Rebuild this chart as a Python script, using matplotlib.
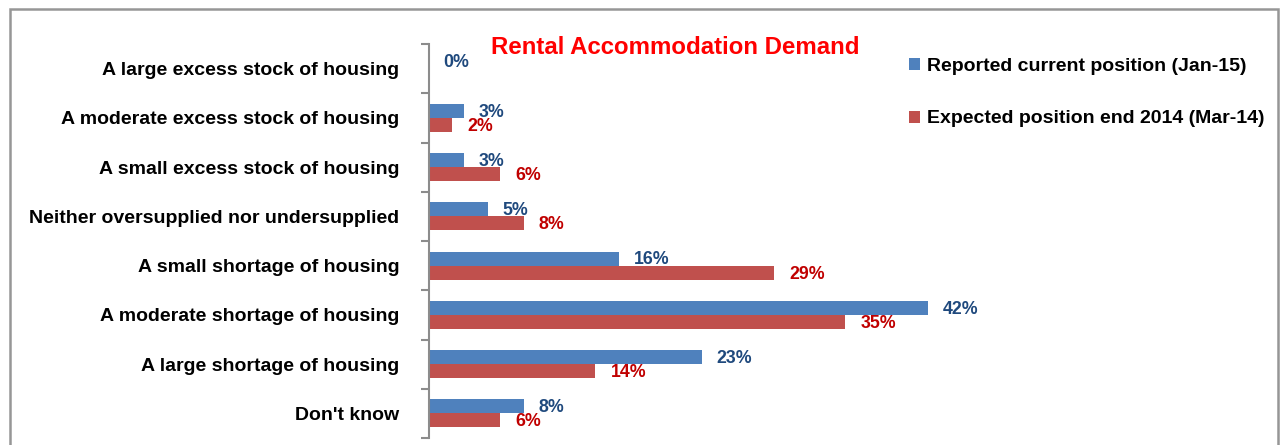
import matplotlib
matplotlib.use("Agg")
import matplotlib.pyplot as plt
from matplotlib.patches import Rectangle
import numpy as np

categories = [
    "A large excess stock of housing",
    "A moderate excess stock of housing",
    "A small excess stock of housing",
    "Neither oversupplied nor undersupplied",
    "A small shortage of housing",
    "A moderate shortage of housing",
    "A large shortage of housing",
    "Don't know",
]
current = [0, 3, 3, 5, 16, 42, 23, 8]
expected = [np.nan, 2, 6, 8, 29, 35, 14, 6]
series_names = ["Reported current position (Jan-15)",
                "Expected position end 2014 (Mar-14)"]
title = "Rental Accommodation Demand"

plt.rcParams["font.family"] = ["Liberation Sans", "DejaVu Sans"]
plt.rcParams["font.weight"] = "bold"

W, H = 1283, 445
fig = plt.figure(figsize=(W / 100, H / 100), dpi=100)

# outer frame of the chart area
fig.patches.append(Rectangle((10 / W, -0.1), 1268 / W, 1.1 - 9 / H,
                             transform=fig.transFigure, fill=False,
                             edgecolor="#969696", linewidth=1.8))

ax = fig.add_axes([428.5 / W, 1 - 438 / H, 595 / W, 394 / H])

y = np.arange(len(categories))
h = 0.285
blue, red = "#4F81BD", "#C0504D"
ax.barh(y - h / 2, current, height=h, color=blue, label=series_names[0])
ax.barh(y + h / 2, expected, height=h, color=red, label=series_names[1])

for yi, v in zip(y, current):
    ax.annotate(f"{v}%", (v, yi - h / 2), xytext=(10.5, -1), textcoords="offset points",
                ha="left", va="center", color="#1F497D", fontsize=12.8, fontweight="bold")
for yi, v in zip(y, expected):
    if np.isnan(v):
        continue
    ax.annotate(f"{v:.0f}%", (v, yi + h / 2), xytext=(11, -1), textcoords="offset points",
                ha="left", va="center", color="#C00000", fontsize=12.8, fontweight="bold")

ax.set_xlim(0, 50)
ax.set_ylim(len(categories) - 0.5, -0.5)
ax.set_yticks(y)
ax.set_yticklabels(categories, fontsize=14, fontweight="bold")
ax.set_yticks(np.arange(-0.5, len(categories)), minor=True)
ax.tick_params(axis="y", which="major", length=0, pad=21)
ax.tick_params(axis="y", which="minor", length=6, width=1.5, color="#8c8c8c")
ax.set_xticks([])
for s in ["top", "right", "bottom"]:
    ax.spines[s].set_visible(False)
ax.spines["left"].set_color("#8c8c8c")
ax.spines["left"].set_linewidth(1.5)

fig.text(675 / W, 1 - 47 / H, title, ha="center", va="center",
         color="#FF0000", fontsize=17.3, fontweight="bold")

fig.legend(loc="upper left", bbox_to_anchor=(909 / W, 1 - 58 / H),
           frameon=False, handlelength=0.57, handleheight=0.57,
           handletextpad=0.35, labelspacing=1.82, borderpad=0, borderaxespad=0,
           prop={"weight": "bold", "size": 14})

fig.savefig("out.png", dpi=100)
